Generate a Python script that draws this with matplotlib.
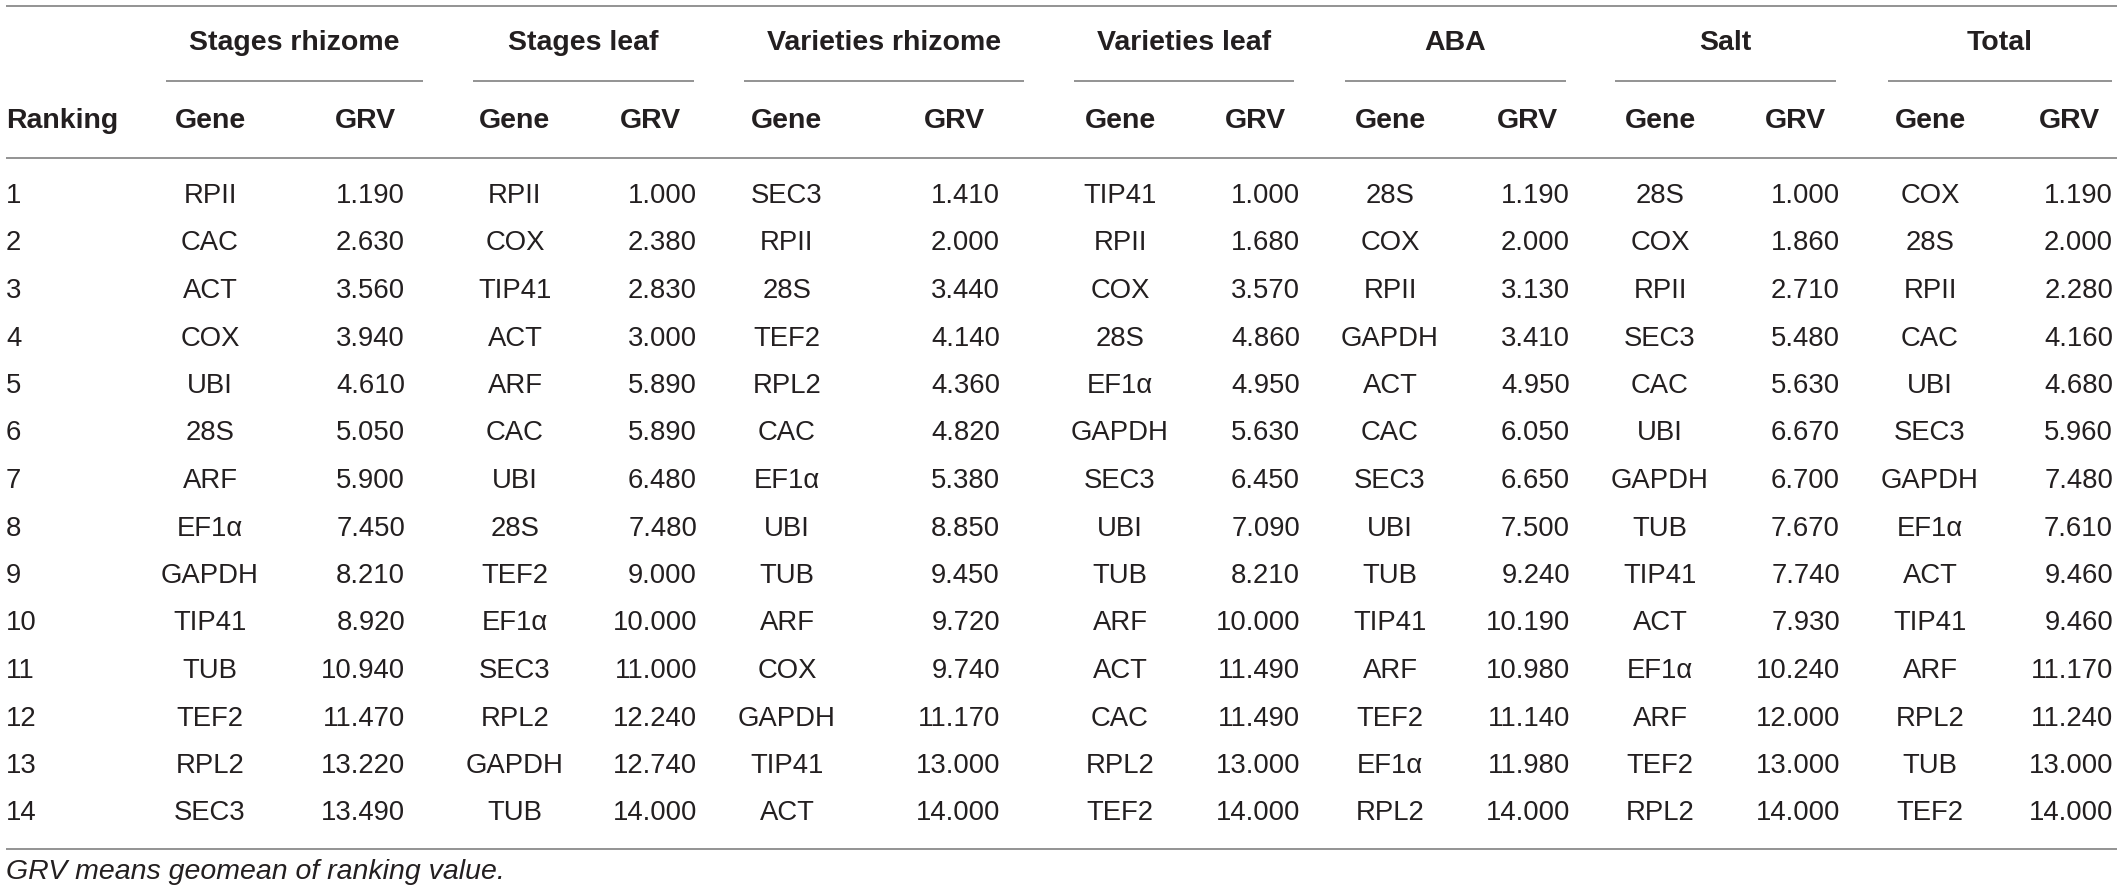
import matplotlib
matplotlib.use('Agg')
import matplotlib.pyplot as plt

# table content
groups = ['Stages rhizome', 'Stages leaf', 'Varieties rhizome', 'Varieties leaf', 'ABA', 'Salt', 'Total']
ranking = list(range(1, 15))

genes_stages_rhizome = ['RPII', 'CAC', 'ACT', 'COX', 'UBI', '28S', 'ARF', 'EF1α', 'GAPDH', 'TIP41', 'TUB', 'TEF2', 'RPL2', 'SEC3']
grv_stages_rhizome = [1.190, 2.630, 3.560, 3.940, 4.610, 5.050, 5.900, 7.450, 8.210, 8.920, 10.940, 11.470, 13.220, 13.490]

genes_stages_leaf = ['RPII', 'COX', 'TIP41', 'ACT', 'ARF', 'CAC', 'UBI', '28S', 'TEF2', 'EF1α', 'SEC3', 'RPL2', 'GAPDH', 'TUB']
grv_stages_leaf = [1.000, 2.380, 2.830, 3.000, 5.890, 5.890, 6.480, 7.480, 9.000, 10.000, 11.000, 12.240, 12.740, 14.000]

genes_var_rhizome = ['SEC3', 'RPII', '28S', 'TEF2', 'RPL2', 'CAC', 'EF1α', 'UBI', 'TUB', 'ARF', 'COX', 'GAPDH', 'TIP41', 'ACT']
grv_var_rhizome = [1.410, 2.000, 3.440, 4.140, 4.360, 4.820, 5.380, 8.850, 9.450, 9.720, 9.740, 11.170, 13.000, 14.000]

genes_var_leaf = ['TIP41', 'RPII', 'COX', '28S', 'EF1α', 'GAPDH', 'SEC3', 'UBI', 'TUB', 'ARF', 'ACT', 'CAC', 'RPL2', 'TEF2']
grv_var_leaf = [1.000, 1.680, 3.570, 4.860, 4.950, 5.630, 6.450, 7.090, 8.210, 10.000, 11.490, 11.490, 13.000, 14.000]

genes_aba = ['28S', 'COX', 'RPII', 'GAPDH', 'ACT', 'CAC', 'SEC3', 'UBI', 'TUB', 'TIP41', 'ARF', 'TEF2', 'EF1α', 'RPL2']
grv_aba = [1.190, 2.000, 3.130, 3.410, 4.950, 6.050, 6.650, 7.500, 9.240, 10.190, 10.980, 11.140, 11.980, 14.000]

genes_salt = ['28S', 'COX', 'RPII', 'SEC3', 'CAC', 'UBI', 'GAPDH', 'TUB', 'TIP41', 'ACT', 'EF1α', 'ARF', 'TEF2', 'RPL2']
grv_salt = [1.000, 1.860, 2.710, 5.480, 5.630, 6.670, 6.700, 7.670, 7.740, 7.930, 10.240, 12.000, 13.000, 14.000]

genes_total = ['COX', '28S', 'RPII', 'CAC', 'UBI', 'SEC3', 'GAPDH', 'EF1α', 'ACT', 'TIP41', 'ARF', 'RPL2', 'TUB', 'TEF2']
grv_total = [1.190, 2.000, 2.280, 4.160, 4.680, 5.960, 7.480, 7.610, 9.460, 9.460, 11.170, 11.240, 13.000, 14.000]

footnote = 'GRV means geomean of ranking value.'

gene_cols = [genes_stages_rhizome, genes_stages_leaf, genes_var_rhizome, genes_var_leaf, genes_aba, genes_salt, genes_total]
grv_cols = [grv_stages_rhizome, grv_stages_leaf, grv_var_rhizome, grv_var_leaf, grv_aba, grv_salt, grv_total]

# layout in pixels
W, H = 2117, 893
underline = [(166, 423), (473, 694), (744, 1024), (1074, 1294), (1345, 1566), (1615, 1836), (1888, 2112)]
gene_x = [210, 515, 787, 1120, 1390, 1660, 1930]
grv_hdr_x = [335, 620, 924, 1225, 1497, 1765, 2039]
grv_val_x = [405, 697, 1000, 1300, 1570, 1840, 2113]

y_top = 6
y_group = 43
y_uline = 81
y_colhdr = 121
y_hdr = 158
y_row0 = 196
row_h = 47.5
y_bottom = 849
y_foot = 872

txt = '#231f20'
line_c = '#8a8a8a'
plt.rcParams['font.family'] = ['Liberation Sans', 'DejaVu Sans']

fig = plt.figure(figsize=(W / 100, H / 100), dpi=100)
ax = fig.add_axes([0, 0, 1, 1])
ax.set_xlim(0, W)
ax.set_ylim(H, 0)
ax.axis('off')

body = 19.8
bold = 20.5

for y in [y_top, y_hdr, y_bottom]:
    ax.plot([6, W], [y, y], color=line_c, lw=1.3, solid_capstyle='butt')

ax.text(6, y_colhdr, 'Ranking', ha='left', va='center', fontsize=bold, fontweight='bold', color=txt)

for g in range(len(groups)):
    x0, x1 = underline[g]
    ax.plot([x0, x1], [y_uline, y_uline], color=line_c, lw=1.3, solid_capstyle='butt')
    ax.text((x0 + x1) / 2, y_group, groups[g], ha='center', va='center', fontsize=bold, fontweight='bold', color=txt)
    ax.text(gene_x[g], y_colhdr, 'Gene', ha='center', va='center', fontsize=bold, fontweight='bold', color=txt)
    ax.text(grv_hdr_x[g], y_colhdr, 'GRV', ha='left', va='center', fontsize=bold, fontweight='bold', color=txt)

for i, r in enumerate(ranking):
    y = y_row0 + i * row_h
    ax.text(6, y, str(r), ha='left', va='center', fontsize=body, color=txt)
    for g in range(len(groups)):
        ax.text(gene_x[g], y, gene_cols[g][i], ha='center', va='center', fontsize=body, color=txt)
        ax.text(grv_val_x[g], y, '%.3f' % grv_cols[g][i], ha='right', va='center', fontsize=body, color=txt)

ax.text(6, y_foot, footnote, ha='left', va='center', fontsize=20.5, style='italic', color=txt)

fig.savefig('out.png', dpi=100, facecolor='white')
